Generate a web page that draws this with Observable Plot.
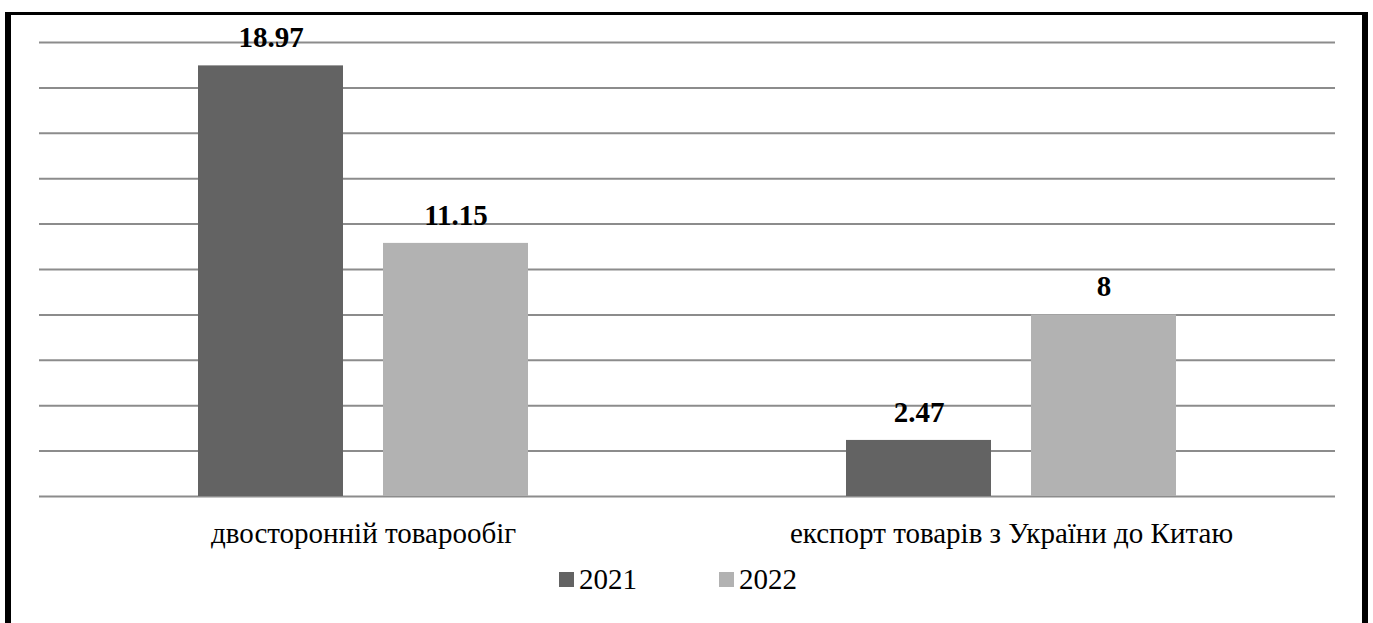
<!DOCTYPE html>
<html>
<head>
<meta charset="utf-8">
<script src="https://cdn.jsdelivr.net/npm/d3@7"></script>
<script src="https://cdn.jsdelivr.net/npm/@observablehq/plot@0.6"></script>
<style>
  body { margin: 0; background: #fff; }
  #wrap { position: relative; width: 1373px; height: 623px; overflow: hidden; background: #fff; }
  #frame { position: absolute; left: 5px; top: 12px; width: 1351px; height: 700px; border-style: solid; border-color: #000; border-width: 3px 6px; }
  #chart { position: absolute; left: 0; top: 0; }
  #legend { position: absolute; left: 559px; top: 565px; display: flex; font-family: "Liberation Serif", "Times New Roman", serif; font-size: 29px; line-height: 28px; color: #000; }
  .item { display: flex; align-items: center; margin-right: 82px; }
  .sw { width: 15px; height: 15px; margin-right: 5px; }
</style>
</head>
<body>
<div id="wrap">
  <div id="frame"></div>
  <div id="chart"></div>
  <div id="legend"></div>
</div>
<script>
const categories = ["двосторонній товарообіг", "експорт товарів з України до Китаю"];
const years = ["2021", "2022"];
const values2021 = [18.97, 2.47];
const values2022 = [11.15, 8];
const gridValues = [0, 2, 4, 6, 8, 10, 12, 14, 16, 18, 20];
const colors = ["#636363", "#b2b2b2"];

const data = [];
categories.forEach((c, i) => {
  data.push({category: c, year: years[0], value: values2021[i]});
  data.push({category: c, year: years[1], value: values2022[i]});
});

const chart = Plot.plot({
  width: 1373,
  height: 560,
  marginTop: 42,
  marginBottom: 64,
  marginLeft: 38,
  marginRight: 38,
  style: { fontFamily: "'Liberation Serif', 'Times New Roman', serif", fontSize: "29px", background: "transparent", color: "#000" },
  fx: { domain: categories, padding: 0, axis: "bottom", tickSize: 0, tickPadding: 26, label: null },
  x: { domain: years, paddingInner: 0.216, paddingOuter: 0.859, axis: null },
  y: { domain: [0, 20], axis: null },
  color: { domain: years, range: colors },
  marks: [
    Plot.ruleY(gridValues, { stroke: "#8c8c8c", strokeWidth: 2, strokeOpacity: 1 }),
    Plot.barY(data, { fx: "category", x: "year", y: "value", fill: "year" }),
    Plot.text(data, { fx: "category", x: "year", y: "value", text: d => String(d.value), dy: -28, lineAnchor: "middle", fontWeight: "bold", fontSize: 29, fill: "#000" })
  ]
});
document.getElementById("chart").appendChild(chart);

const legend = d3.select("#legend");
years.forEach((y, i) => {
  const it = legend.append("div").attr("class", "item");
  it.append("div").attr("class", "sw").style("background", colors[i]);
  it.append("span").text(y);
});
</script>
</body>
</html>
